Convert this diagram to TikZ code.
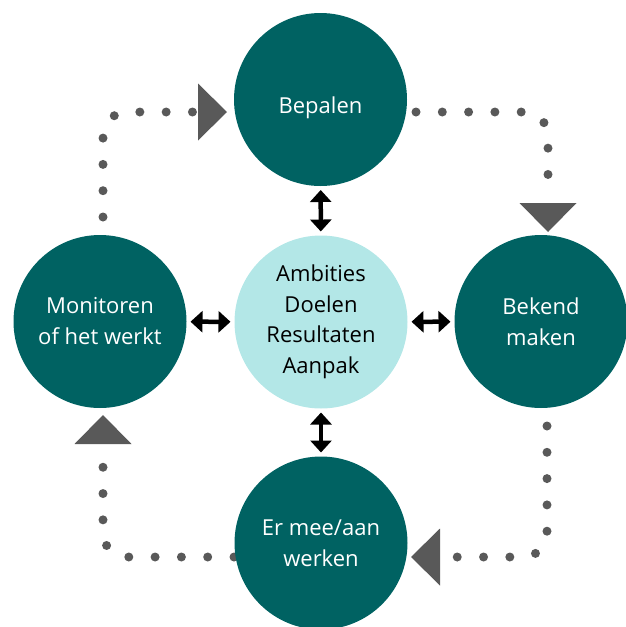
\documentclass[tikz,border=0pt]{standalone}
\usepackage{fontspec}
\setmainfont{Open Sans}
\usetikzlibrary{arrows.meta}
\definecolor{dteal}{RGB}{0,98,98}
\definecolor{lteal}{RGB}{179,231,231}
\definecolor{dgray}{RGB}{89,89,89}
\begin{document}
\begin{tikzpicture}[x=1pt,y=-1pt,
  big/.style={circle,fill=dteal,minimum size=173pt,inner sep=0pt,outer sep=0pt,text=white,align=center,font=\fontsize{22}{31}\selectfont},
  hub/.style={big,fill=lteal,text=black,font=\fontsize{22}{30.5}\selectfont},
  dots/.style={draw=dgray,line width=9pt,line cap=round,dash pattern=on 0pt off 26.3pt,rounded corners=24pt},
  both/.style={draw=black,line width=4.5pt,{Triangle[width=21pt,length=12pt]}-{Triangle[width=21pt,length=12pt]},shorten <=4pt,shorten >=4pt},
  tri/.style={fill=dgray}]
\useasboundingbox (0,0) rectangle (625,627);
% dotted cycle
\coordinate (a1) at (103,217); \coordinate (a2) at (231,112);
\coordinate (b1) at (416,112); \coordinate (b2) at (548,192);
\coordinate (c1) at (547,426); \coordinate (c2) at (418,557);
\coordinate (d1) at (234,557); \coordinate (d2) at (103,450);
\draw[dots] (a1) |- (a2);
\draw[dots] (b1) -| (b2);
\draw[dots] (c1) |- (c2);
\draw[dots] (d1) -| (d2);
% circles
\node[big] (top) at (320.5,99.5) {\raisebox{-13.5pt}[0pt][0pt]{Bepalen}};
\node[big] (left) at (100,321.5) {Monitoren\\of het werkt};
\node[big] (right) at (541,321.5) {Bekend\\maken};
\node[big] (bot) at (321,543) {Er mee/aan\\werken};
\node[hub] (hub) at (321,322) {Ambities\\Doelen\\Resultaten\\Aanpak};
% triangles
\fill[tri] (198,83.5) -- (227,112) -- (198,140.5) -- cycle;
\fill[tri] (519.5,203) -- (576.5,203) -- (548,232) -- cycle;
\fill[tri] (440,528.5) -- (411,557) -- (440,585.5) -- cycle;
\fill[tri] (74.5,444) -- (131.5,444) -- (103,415) -- cycle;
% double arrows
\draw[both] (top) -- (hub);
\draw[both] (left) -- (hub);
\draw[both] (hub) -- (right);
\draw[both] (hub) -- (bot);
\end{tikzpicture}
\end{document}
